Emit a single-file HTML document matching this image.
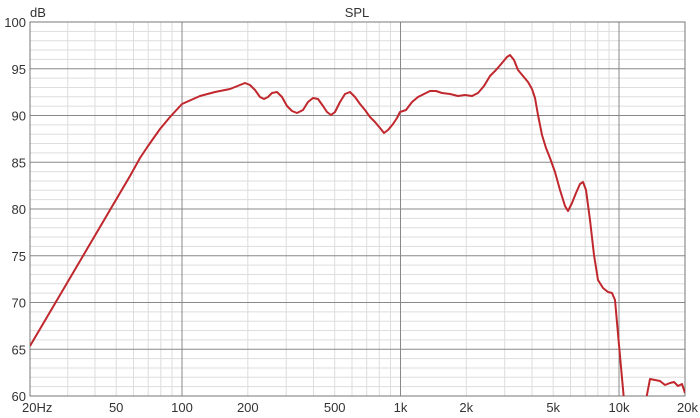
<!DOCTYPE html>
<html><head><meta charset="utf-8"><style>body{margin:0;background:#fff}svg{display:block}text{font-family:"Liberation Sans",sans-serif;fill:#333;font-size:13px}</style></head>
<body>
<svg width="700" height="418" viewBox="0 0 700 418" xmlns="http://www.w3.org/2000/svg">
<rect width="700" height="418" fill="#fff"/>
<path fill="none" stroke="#ddd" stroke-width="1" d="M30 31.35H685M30 40.7H685M30 50.05H685M30 59.4H685M30 78.1H685M30 87.45H685M30 96.8H685M30 106.15H685M30 124.85H685M30 134.2H685M30 143.55H685M30 152.9H685M30 171.6H685M30 180.95H685M30 190.3H685M30 199.65H685M30 218.35H685M30 227.7H685M30 237.05H685M30 246.4H685M30 265.1H685M30 274.45H685M30 283.8H685M30 293.15H685M30 311.85H685M30 321.2H685M30 330.55H685M30 339.9H685M30 358.6H685M30 367.95H685M30 377.3H685M30 386.65H685
M67.7 22V396M95 22V396M116.2 22V396M133.5 22V396M148.2 22V396M160.8 22V396M172 22V396M247.8 22V396M286.2 22V396M313.5 22V396M334.7 22V396M352 22V396M366.7 22V396M379.3 22V396M390.5 22V396M466.3 22V396M504.7 22V396M532 22V396M553.2 22V396M570.5 22V396M585.2 22V396M597.8 22V396M609 22V396"/>
<path fill="none" stroke="#888" stroke-width="1" d="M30 68.75H685M30 115.5H685M30 162.25H685M30 209H685M30 255.75H685M30 302.5H685M30 349.25H685M182 22V396M400.5 22V396M619 22V396"/>
<rect x="30" y="22" width="655" height="374" fill="none" stroke="#777"/>
<text x="26" y="27" text-anchor="end">100</text>
<text x="26" y="73.75" text-anchor="end">95</text>
<text x="26" y="120.5" text-anchor="end">90</text>
<text x="26" y="167.25" text-anchor="end">85</text>
<text x="26" y="214" text-anchor="end">80</text>
<text x="26" y="260.75" text-anchor="end">75</text>
<text x="26" y="307.5" text-anchor="end">70</text>
<text x="26" y="354.25" text-anchor="end">65</text>
<text x="26" y="401" text-anchor="end">60</text>
<text x="30" y="17">dB</text>
<text x="357" y="17" text-anchor="middle">SPL</text>
<text x="22" y="412">20Hz</text>
<text x="116.2" y="412" text-anchor="middle">50</text>
<text x="182" y="412" text-anchor="middle">100</text>
<text x="247.8" y="412" text-anchor="middle">200</text>
<text x="334.7" y="412" text-anchor="middle">500</text>
<text x="400.5" y="412" text-anchor="middle">1k</text>
<text x="466.3" y="412" text-anchor="middle">2k</text>
<text x="553.2" y="412" text-anchor="middle">5k</text>
<text x="619" y="412" text-anchor="middle">10k</text>
<text x="698" y="412" text-anchor="end">20k</text>
<defs><clipPath id="c"><rect x="30" y="22" width="655" height="374"/></clipPath></defs>
<polyline clip-path="url(#c)" fill="none" stroke="#c0282e" stroke-width="2" stroke-linejoin="round" points="30,346 130,176 140,158 148,146 160,129 170,117 182,104 200,96 215,92 230,89 240,85 245,83 250,85 255,90 260,97 264,99 268,97 272,93 277,92 282,97 287,106 292,111 297,113 303,110 308,102 313,98 318,99 323,106 327,112 331,115 335,112 340,102 345,94 350,92 355,97 360,104 365,110 370,117 375,122 380,128 384,133 388,130 393,124 397,118 400,112 406,110 412,102 418,97 424,94 430,91 436,91 442,93 450,94 458,96 465,95 472,96 478,93 484,86 490,76 496,70 502,63 507,57 510,55 514,60 518,70 523,76 528,82 532,89 535,98 538,115 542,135 546,148 550,158 555,172 560,190 565,206 568,211 572,203 576,193 580,184 583,182 586,190 590,220 594,255 598,280 603,288 608,292 612,293 615,300 619,345 624,400"/>
<polyline clip-path="url(#c)" fill="none" stroke="#c0282e" stroke-width="2" stroke-linejoin="round" points="646,400 650,379 655,380 660,381 665,385 670,383 674,382 678,386 682,384 685,393"/>
</svg>
</body></html>
